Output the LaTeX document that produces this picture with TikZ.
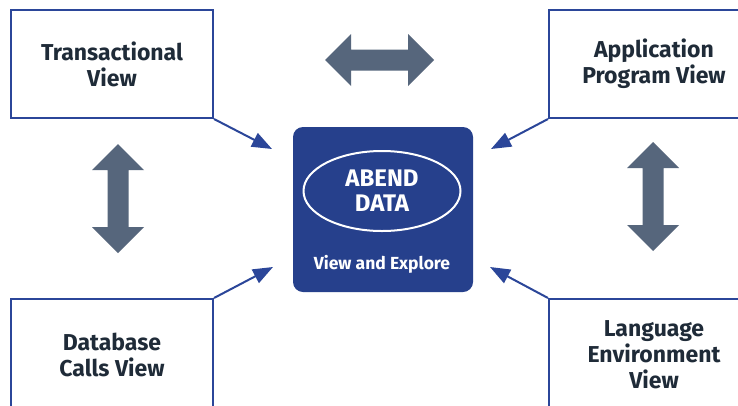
\documentclass[tikz,border=0pt]{standalone}
\usepackage{fontspec}
\setmainfont{Fira Sans}
\usetikzlibrary{arrows.meta,shapes.geometric}

\definecolor{boxblue}{HTML}{2B4699}
\definecolor{coreblue}{HTML}{26408C}
\definecolor{textdark}{HTML}{1F2B38}
\definecolor{slate}{HTML}{56667C}

\tikzset{
  viewbox/.style={draw=boxblue, line width=2pt, fill=white, align=center,
    text=textdark, font=\fontsize{23}{26}\selectfont\bfseries,
    minimum width=202, minimum height=108},
  link/.style={draw=boxblue, line width=2pt,
    -{Triangle[length=20pt,width=15pt]}},
  pics/dblarrow/.style={code={
    \fill[slate] (-54.5,0) -- (-28.5,-26) -- (-28.5,-10.5) -- (28.5,-10.5)
      -- (28.5,-26) -- (54.5,0) -- (28.5,26) -- (28.5,10.5) -- (-28.5,10.5)
      -- (-28.5,26) -- cycle;
  }}
}

\begin{document}
\begin{tikzpicture}[x=1pt, y=-1pt]
    \clip (0,0) rectangle (738,405);
    \fill[white] (0,0) rectangle (738,405);

    % the four views
    \node[viewbox] (trans) at (112,64) {Transactional\\View};
    \node[viewbox, minimum width=210] (approg) at (654,64) {Application\\Program View};
    \node[viewbox, minimum height=112] (dbcalls) at (112,355) {Database\\Calls View};
    \node[viewbox, minimum width=210, minimum height=112] (langenv) at (654,355) {Language\\Environment\\View};

    % centre box
    \node[fill=coreblue, rounded corners=10pt, minimum width=180, minimum height=165] (core) at (383,209.5) {};
    \node[draw=white, line width=2pt, ellipse, minimum width=157, minimum height=80, inner sep=0pt,
      text=white, align=center, font=\fontsize{24}{25}\selectfont\bfseries] (abend) at (382,191) {ABEND\\DATA};
    \node[text=white, font=\fontsize{17.5}{20}\selectfont\bfseries] (explore) at (382,264) {View and Explore};

    % arrows into the centre
    \coordinate (tlend) at (272,149);
    \coordinate (trend) at (491,149);
    \coordinate (blend) at (273,267);
    \coordinate (brend) at (490,267);
    \draw[link] (trans.south east) -- (tlend);
    \draw[link] (approg.south west) -- (trend);
    \draw[link] (dbcalls.north east) -- (blend);
    \draw[link] (langenv.north west) -- (brend);

    % block arrows
    \pic at (379.5,60) {dblarrow};
    \pic[rotate=90] at (118,198.5) {dblarrow};
    \pic[rotate=90] at (653,196.5) {dblarrow};
\end{tikzpicture}
\end{document}
